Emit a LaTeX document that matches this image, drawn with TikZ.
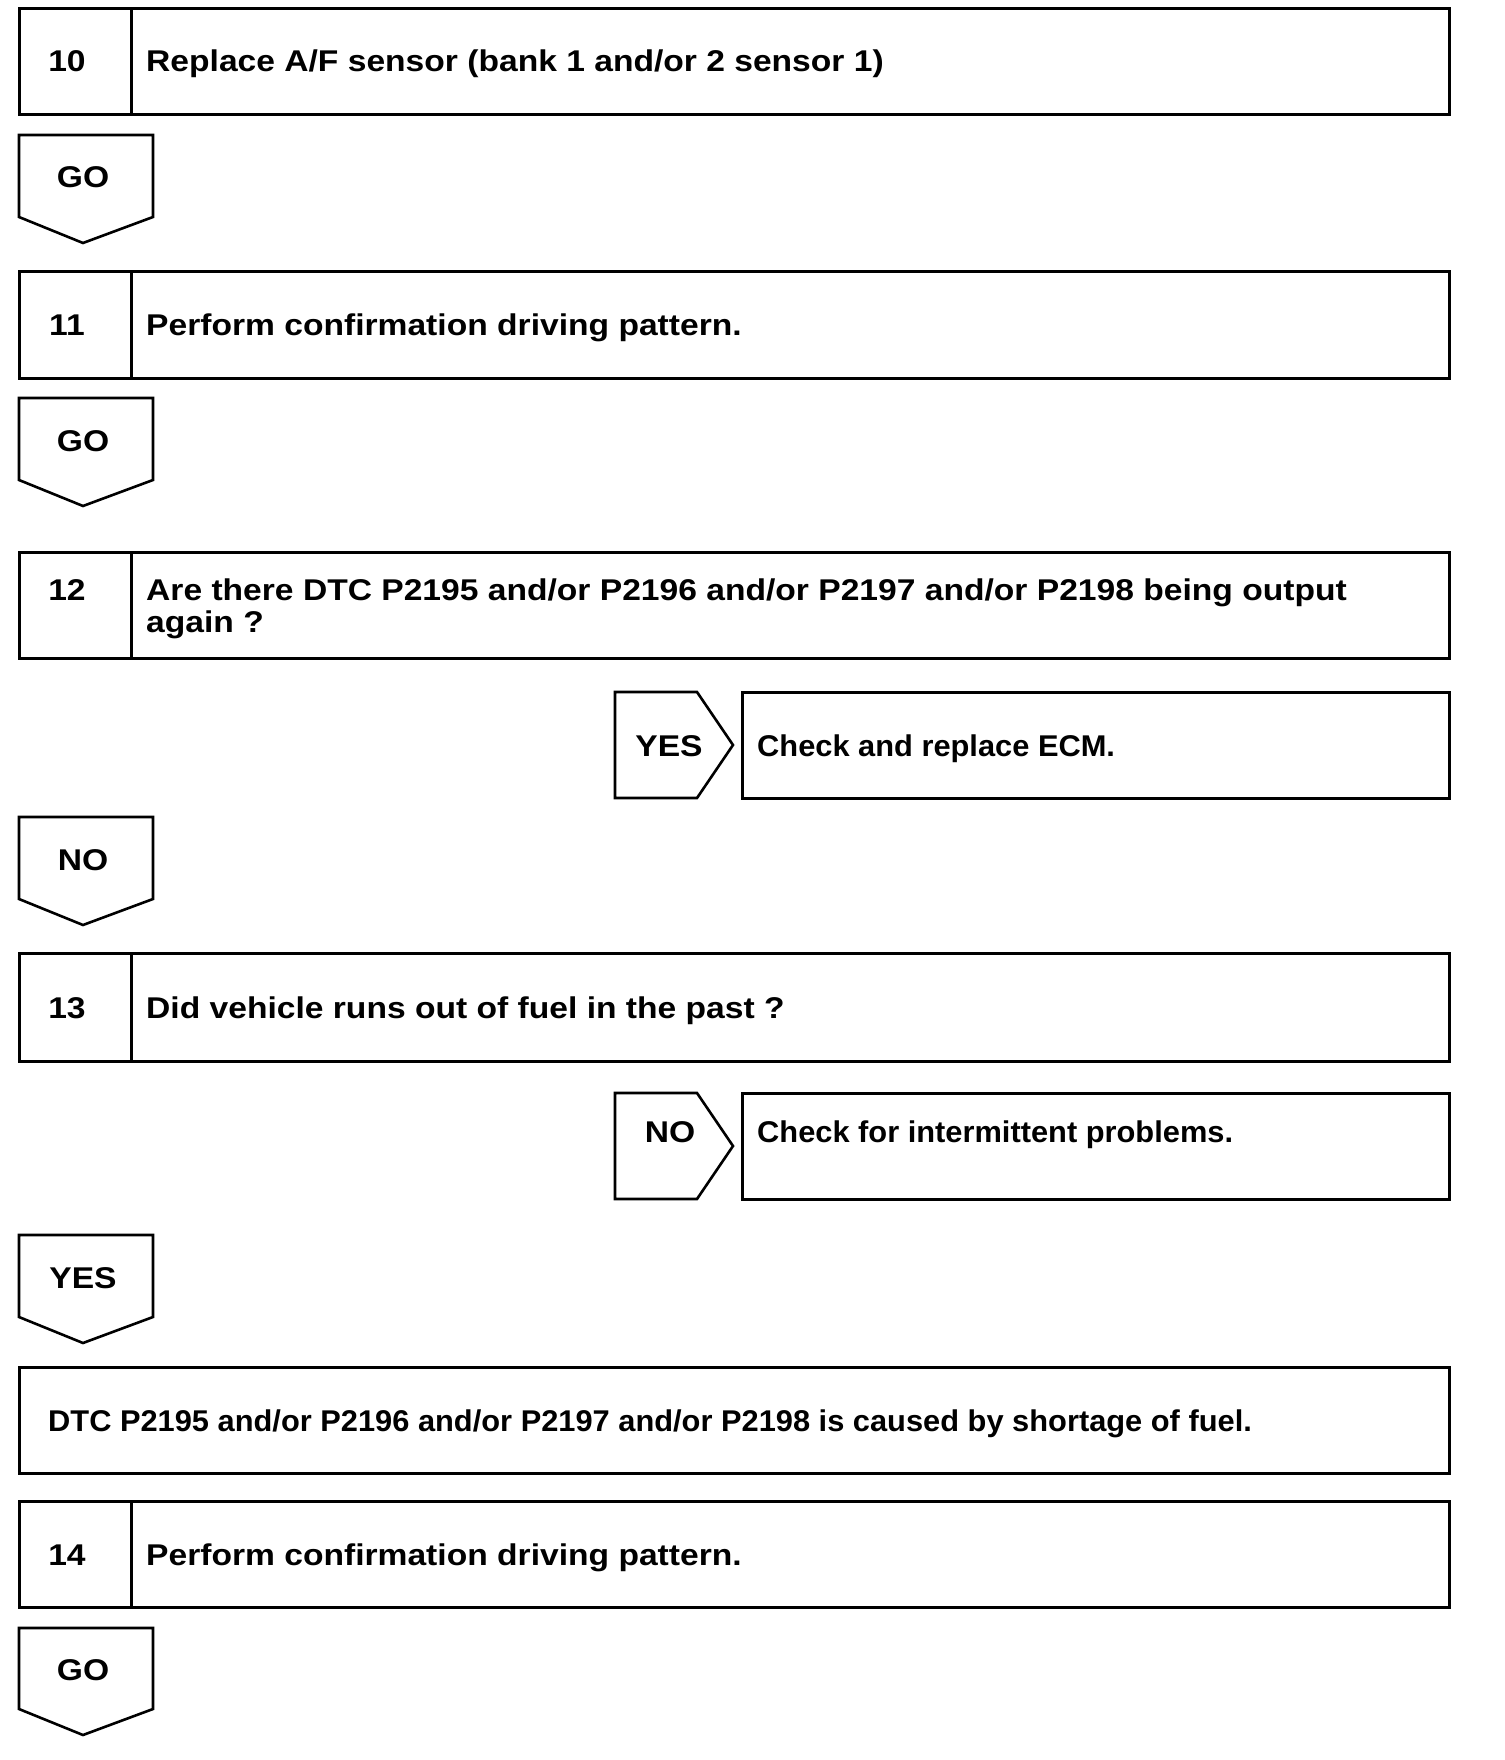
\documentclass[tikz,border=0pt]{standalone}
\usepackage{fontspec}
\newfontfamily\flowfont{Liberation Sans}[FakeStretch=1.12]
\newfontfamily\flowfontn{Liberation Sans}[FakeStretch=1.027]
\begin{document}
\begin{tikzpicture}[x=1pt,y=-1pt]
\tikzset{
  frame/.style={draw, line width=3pt, line join=miter},
  pent/.style={draw, line width=2.6pt, line join=miter},
  txt/.style={font=\flowfont\bfseries\fontsize{30}{32}\selectfont, inner sep=0pt, text depth=0pt},
  ntxt/.style={font=\flowfontn\bfseries\fontsize{30}{32}\selectfont, inner sep=0pt, text depth=0pt},
  ltxt/.style={txt, anchor=base west},
  lntxt/.style={ntxt, anchor=base west},
  ctxt/.style={txt, anchor=base}
}
\useasboundingbox[fill=white] (0,0) rectangle (1504,1760);

% Step 10
\draw[frame] (19,9) rectangle (1449,115);
\draw[frame] (131,9) -- (131,115);
\node[ctxt] (n10) at (67,72) {10};
\node[ltxt] (t10) at (146,72) {Replace A/F sensor (bank 1 and/or 2 sensor 1)};

% GO 1
\draw[pent] (19,135) -- (153,135) -- (153,217) -- (83,243) -- (19,217) -- cycle;
\node[ctxt] (go1) at (83,188) {GO};

% Step 11
\draw[frame] (19,272) rectangle (1449,378);
\draw[frame] (131,272) -- (131,378);
\node[ctxt] (n11) at (67,335) {11};
\node[ltxt] (t11) at (146,335) {Perform confirmation driving pattern.};

% GO 2
\draw[pent] (19,398) -- (153,398) -- (153,480) -- (83,506) -- (19,480) -- cycle;
\node[ctxt] (go2) at (83,451) {GO};

% Step 12
\draw[frame] (19,552) rectangle (1449,658);
\draw[frame] (131,552) -- (131,658);
\node[ctxt] (n12) at (67,600) {12};
\node[ltxt] (t12a) at (146,600) {Are there DTC P2195 and/or P2196 and/or P2197 and/or P2198 being output};
\node[ltxt] (t12b) at (146,632) {again ?};

% YES right
\draw[pent] (615,692) -- (697,692) -- (733,745) -- (697,798) -- (615,798) -- cycle;
\node[ctxt] (yes1) at (669,756) {YES};
\draw[frame] (742,692) rectangle (1449,798);
\node[lntxt] (ecm) at (757,756) {Check and replace ECM.};

% NO down
\draw[pent] (19,817) -- (153,817) -- (153,899) -- (83,925) -- (19,899) -- cycle;
\node[ctxt] (no1) at (83,870) {NO};

% Step 13
\draw[frame] (19,953) rectangle (1449,1061);
\draw[frame] (131,953) -- (131,1061);
\node[ctxt] (n13) at (67,1018) {13};
\node[ltxt] (t13) at (146,1018) {Did vehicle runs out of fuel in the past ?};

% NO right
\draw[pent] (615,1093) -- (697,1093) -- (733,1146) -- (697,1199) -- (615,1199) -- cycle;
\node[ctxt] (no2) at (670,1142) {NO};
\draw[frame] (742,1093) rectangle (1449,1199);
\node[lntxt] (inter) at (757,1142) {Check for intermittent problems.};

% YES down
\draw[pent] (19,1235) -- (153,1235) -- (153,1317) -- (83,1343) -- (19,1317) -- cycle;
\node[ctxt] (yes2) at (83,1288) {YES};

% Conclusion box
\draw[frame] (19,1367) rectangle (1449,1473);
\node[lntxt] (fuel) at (48,1431) {DTC P2195 and/or P2196 and/or P2197 and/or P2198 is caused by shortage of fuel.};

% Step 14
\draw[frame] (19,1501) rectangle (1449,1607);
\draw[frame] (131,1501) -- (131,1607);
\node[ctxt] (n14) at (67,1565) {14};
\node[ltxt] (t14) at (146,1565) {Perform confirmation driving pattern.};

% GO 4
\draw[pent] (19,1628) -- (153,1628) -- (153,1709) -- (83,1735) -- (19,1709) -- cycle;
\node[ctxt] (go4) at (83,1680) {GO};
\end{tikzpicture}
\end{document}
